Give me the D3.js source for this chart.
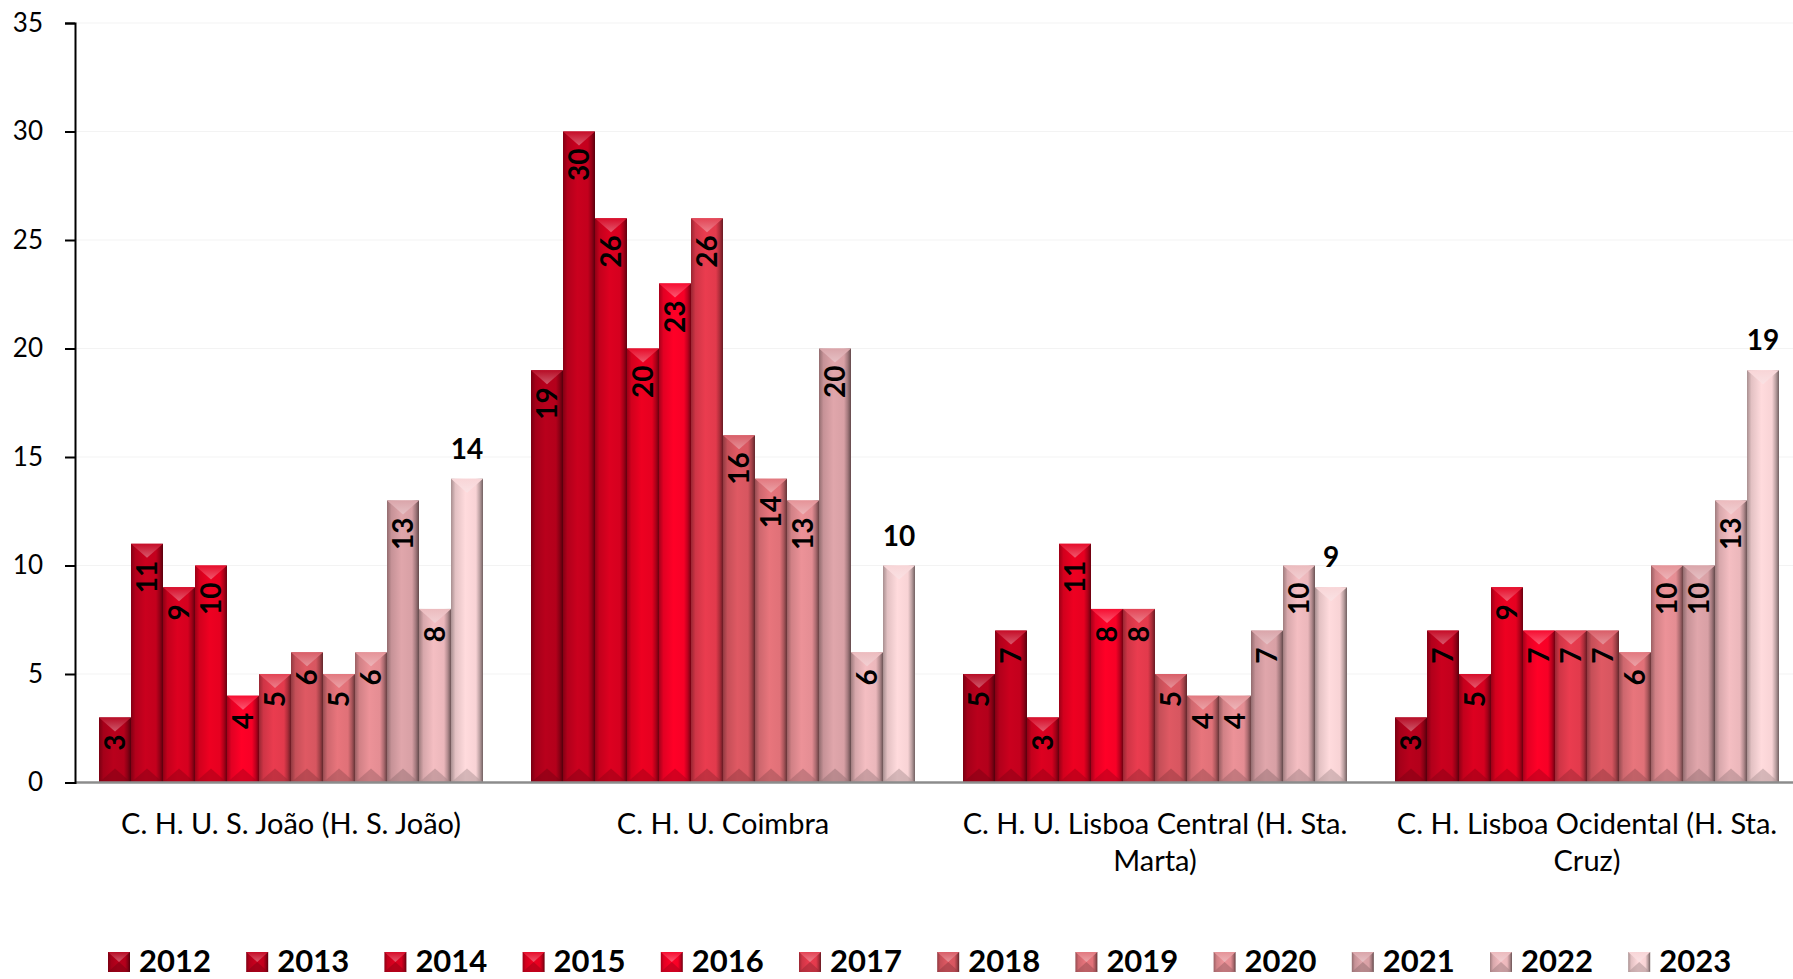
<!DOCTYPE html>
<html>
<head>
<meta charset="utf-8">
<script src="https://cdn.jsdelivr.net/npm/d3@7"></script>
<style>
  html, body { margin: 0; padding: 0; background: #fff; }
  svg { display: block; }
</style>
</head>
<body>
<svg id="chart" width="1793" height="979"></svg>
<script>
// ---- data ----
const categories = [
  "C. H. U. S. João (H. S. João)",
  "C. H. U. Coimbra",
  "C. H. U. Lisboa Central (H. Sta. Marta)",
  "C. H. Lisboa Ocidental (H. Sta. Cruz)"
];
const years = ["2012","2013","2014","2015","2016","2017","2018","2019","2020","2021","2022","2023"];
const values2012 = [3, 19, 5, 3];
const values2013 = [11, 30, 7, 7];
const values2014 = [9, 26, 3, 5];
const values2015 = [10, 20, 11, 9];
const values2016 = [4, 23, 8, 7];
const values2017 = [5, 26, 8, 7];
const values2018 = [6, 16, 5, 7];
const values2019 = [5, 14, 4, 6];
const values2020 = [6, 13, 4, 10];
const values2021 = [13, 20, 7, 10];
const values2022 = [8, 6, 10, 13];
const values2023 = [14, 10, 9, 19];
const seriesValues = [values2012, values2013, values2014, values2015, values2016, values2017,
                      values2018, values2019, values2020, values2021, values2022, values2023];
const yTicks = [0, 5, 10, 15, 20, 25, 30, 35];
const seriesColors = ["#b3001b","#c3001d","#d5001f","#e60020","#f70026","#e23a4c",
                      "#d75660","#e07178","#e48d93","#d8a0a5","#ebb7bb","#f8d3d5"];

// ---- layout ----
const svg = d3.select("#chart");
const axisX = 75, zeroY = 782.5, topY = 23;
const x0 = d3.scaleBand().domain(categories).range([axisX, 1803]).paddingInner(0).paddingOuter(0);
const x1 = d3.scaleBand().domain(years).range([0, x0.bandwidth()]).paddingInner(0).paddingOuter(0.75);
const y = d3.scaleLinear().domain([0, 35]).range([zeroY, topY]);

const defs = svg.append("defs");
seriesColors.forEach((c, i) => {
  const base = d3.color(c);
  const g = defs.append("linearGradient").attr("id", "bodyGrad" + i)
    .attr("x1", "0").attr("x2", "1").attr("y1", "0").attr("y2", "0");
  g.append("stop").attr("offset", "0").attr("stop-color", base.darker(1.1));
  g.append("stop").attr("offset", "0.14").attr("stop-color", base.darker(0.25));
  g.append("stop").attr("offset", "0.45").attr("stop-color", base.brighter(0.1));
  g.append("stop").attr("offset", "0.78").attr("stop-color", base);
  g.append("stop").attr("offset", "0.9").attr("stop-color", base.darker(0.8));
  g.append("stop").attr("offset", "1").attr("stop-color", base.darker(2.2));
  const t = defs.append("linearGradient").attr("id", "topGrad" + i)
    .attr("x1", "0").attr("x2", "0").attr("y1", "0").attr("y2", "1");
  t.append("stop").attr("offset", "0").attr("stop-color", d3.interpolateRgb(c, "#ffffff")(0.05));
  t.append("stop").attr("offset", "1").attr("stop-color", d3.interpolateRgb(c, "#ffffff")(0.35));
});

// faint gridlines
svg.append("g").selectAll("line").data(yTicks.slice(1)).join("line")
  .attr("x1", axisX).attr("x2", 1793)
  .attr("y1", d => y(d)).attr("y2", d => y(d))
  .attr("stroke", "#f3f3f3").attr("stroke-width", 1);

// bars
const bevel = 14;
const barsG = svg.append("g");
seriesValues.forEach((vals, si) => {
  const base = d3.color(seriesColors[si]);
  vals.forEach((v, ci) => {
    const bx = x0(categories[ci]) + x1(years[si]);
    const w = x1.bandwidth();
    const top = y(v), bot = y(0);
    const g = barsG.append("g");
    g.append("rect").attr("x", bx).attr("y", top).attr("width", w).attr("height", bot - top)
      .attr("fill", `url(#bodyGrad${si})`);
    g.append("path")
      .attr("d", `M${bx},${top}L${bx + w},${top}L${bx + w / 2},${top + bevel}Z`)
      .attr("fill", `url(#topGrad${si})`);
    g.append("path")
      .attr("d", `M${bx},${bot}L${bx + w},${bot}L${bx + w / 2},${bot - bevel}Z`)
      .attr("fill", base.darker(0.9)).attr("opacity", 0.55);
  });
});

// data labels
const lblG = svg.append("g").attr("font-family", "Lato, sans-serif").attr("font-weight", "bold")
  .attr("fill", "#000");
const fsLbl = 28;
seriesValues.forEach((vals, si) => {
  vals.forEach((v, ci) => {
    const cx = x0(categories[ci]) + x1(years[si]) + x1.bandwidth() / 2;
    if (si === years.length - 1) {
      lblG.append("text").attr("x", cx).attr("y", y(v) - 20)
        .attr("text-anchor", "middle").attr("font-size", fsLbl).text(v);
    } else {
      lblG.append("text")
        .attr("transform", "rotate(-90)")
        .attr("x", -(y(v) + 17)).attr("y", cx + 0.36 * fsLbl)
        .attr("text-anchor", "end").attr("font-size", fsLbl).text(v);
    }
  });
});

// baseline
svg.append("line").attr("x1", axisX).attr("x2", 1793).attr("y1", zeroY).attr("y2", zeroY)
  .attr("stroke", "#8c8c8c").attr("stroke-width", 2.5);

// y axis
const yAxis = d3.axisLeft(y).tickValues(yTicks).tickSize(10).tickPadding(22);
const yg = svg.append("g").attr("transform", `translate(${axisX},0)`).call(yAxis);
yg.select(".domain").attr("stroke", "#000").attr("stroke-width", 2);
yg.selectAll(".tick line").attr("stroke", "#000").attr("stroke-width", 2);
yg.selectAll(".tick text").attr("font-family", "Lato, sans-serif").attr("font-size", 26)
  .attr("fill", "#000");

// category labels (wrapped)
const catG = svg.append("g").attr("font-family", "Lato, sans-serif").attr("font-size", 29)
  .attr("fill", "#000").attr("text-anchor", "middle");
const wrapWidth = 400;
categories.forEach(cat => {
  const t = catG.append("text").attr("x", x0(cat) + x0.bandwidth() / 2).attr("y", 834);
  const words = cat.split(" ");
  let line = [];
  let tspan = t.append("tspan").attr("x", x0(cat) + x0.bandwidth() / 2).attr("dy", 0);
  words.forEach(wd => {
    line.push(wd);
    tspan.text(line.join(" "));
    if (tspan.node().getComputedTextLength() > wrapWidth && line.length > 1) {
      line.pop();
      tspan.text(line.join(" "));
      line = [wd];
      tspan = t.append("tspan").attr("x", x0(cat) + x0.bandwidth() / 2).attr("dy", 37).text(wd);
    }
  });
});

// legend
const legG = svg.append("g").attr("font-family", "Lato, sans-serif").attr("font-weight", "bold")
  .attr("font-size", 31).attr("fill", "#000");
years.forEach((yr, i) => {
  const lx = 108 + i * 138.2;
  const base = d3.color(seriesColors[i]);
  const mw = 22, mh = 20, my = 952;
  const g = legG.append("g");
  g.append("rect").attr("x", lx).attr("y", my).attr("width", mw).attr("height", mh)
    .attr("fill", `url(#bodyGrad${i})`);
  g.append("path").attr("d", `M${lx},${my}L${lx + mw},${my}L${lx + mw / 2},${my + mh / 2}Z`)
    .attr("fill", `url(#topGrad${i})`);
  g.append("path").attr("d", `M${lx},${my + mh}L${lx + mw},${my + mh}L${lx + mw / 2},${my + mh / 2}Z`)
    .attr("fill", base.darker(0.9)).attr("opacity", 0.6);
  g.append("text").attr("x", lx + 31).attr("y", 972).text(yr);
});
</script>
</body>
</html>
